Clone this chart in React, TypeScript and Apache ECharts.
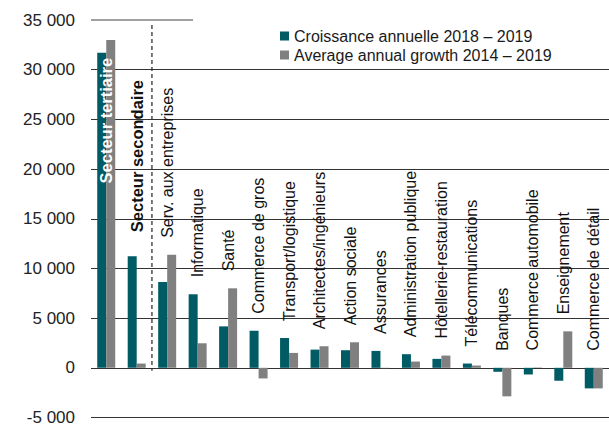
import React, { useEffect, useRef } from "react";
import * as echarts from "echarts";

const categories = [
  "Secteur tertiaire",
  "Secteur secondaire",
  "Serv. aux entreprises",
  "Informatique",
  "Santé",
  "Commerce de gros",
  "Transport/logistique",
  "Architectes/ingénieurs",
  "Action sociale",
  "Assurances",
  "Administration publique",
  "Hôtellerie-restauration",
  "Télécommunications",
  "Banques",
  "Commerce automobile",
  "Enseignement",
  "Commerce de détail",
];
const growth2018 = [31700, 11230, 8630, 7400, 4170, 3730, 3000, 1830, 1770, 1700, 1370, 900, 430, -400, -670, -1300, -2070];
const growthAvg = [33000, 430, 11370, 2470, 8000, -1070, 1500, 2170, 2570, -40, 630, 1230, 230, -2870, 40, 3670, -2070];
const seriesNames = ["Croissance annuelle 2018 – 2019", "Average annual growth 2014 – 2019"];
const yMin = -5000;
const yMax = 35000;
const yStep = 5000;

const FONT = '"Liberation Sans", Arial, Helvetica, sans-serif';

function fmt(v: number): string {
  const s = Math.abs(v).toString().replace(/\B(?=(\d{3})+(?!\d))/g, " ");
  return v < 0 ? "-" + s : s;
}

export default function App() {
  const ref = useRef<HTMLDivElement>(null);
  useEffect(() => {
    if (!ref.current) return;
    const chart = echarts.init(ref.current, undefined, { renderer: "svg" });
    const labelData = categories.map((_, i) => [i, growth2018[i], growthAvg[i]]);
    chart.setOption({
      animation: false,
      textStyle: { fontFamily: FONT },
      grid: { left: 91, right: -3, top: 20, bottom: 6, containLabel: false },
      legend: {
        orient: "vertical",
        left: 275,
        top: 23,
        itemWidth: 9,
        itemHeight: 9,
        itemGap: 3,
        icon: "rect",
        data: seriesNames,
        textStyle: { fontSize: 16, color: "#1a1a1a", fontFamily: FONT },
      },
      xAxis: {
        type: "category",
        data: categories,
        axisLine: { show: false },
        axisTick: { show: false },
        axisLabel: { show: false },
        splitLine: { show: false },
      },
      yAxis: {
        type: "value",
        min: yMin,
        max: yMax,
        interval: yStep,
        axisLine: { show: false },
        axisTick: { show: false },
        axisLabel: {
          fontSize: 17,
          color: "#222",
          margin: 16,
          fontFamily: FONT,
          formatter: (v: number) => fmt(v),
        },
        splitLine: {
          show: true,
          showMaxLine: false,
          lineStyle: { color: "#333", width: 1 },
        },
      },
      series: [
        {
          name: seriesNames[0],
          type: "bar",
          data: growth2018,
          barWidth: 9,
          barGap: "0%",
          itemStyle: { color: "#005B64" },
        },
        {
          name: seriesNames[1],
          type: "bar",
          data: growthAvg,
          barWidth: 9,
          barGap: "0%",
          itemStyle: { color: "#808080" },
        },
        {
          type: "custom",
          data: labelData,
          z: 10,
          silent: true,
          encode: { x: 0, y: [1, 2] },
          renderItem: (params: any, api: any) => {
            const i = api.value(0);
            const a = api.value(1);
            const b = api.value(2);
            const band = api.size([1, 0])[0];
            const cx = api.coord([i, 0])[0];
            const children: any[] = [];
            const top = Math.max(a, b, 0);
            if (i === 0) {
              const y = api.coord([i, a])[1] + 5;
              children.push({
                type: "text",
                x: cx,
                y,
                rotation: Math.PI / 2,
                style: {
                  text: categories[i],
                  fill: "#fff",
                  fontSize: 16.5,
                  fontWeight: "bold",
                  fontFamily: FONT,
                  align: "right",
                  verticalAlign: "middle",
                },
              });
              const yTop = api.coord([i, yMax])[1];
              const x0 = cx - band / 2;
              children.push({
                type: "line",
                shape: { x1: x0, y1: yTop, x2: x0 + 102, y2: yTop },
                style: { stroke: "#808080", lineWidth: 1.5 },
              });
            } else {
              const gap = i === 1 ? 24 : 17;
              const y = api.coord([i, top])[1] - gap;
              children.push({
                type: "text",
                x: cx,
                y,
                rotation: Math.PI / 2,
                style: {
                  text: categories[i],
                  fill: "#111",
                  fontSize: i === 1 ? 16.5 : 16,
                  fontWeight: i === 1 ? "bold" : "normal",
                  fontFamily: FONT,
                  align: "left",
                  verticalAlign: "middle",
                },
              });
            }
            if (i === 1) {
              const xl = cx + band / 2;
              children.push({
                type: "line",
                shape: {
                  x1: xl,
                  y1: api.coord([i, yMax])[1] + 5,
                  x2: xl,
                  y2: api.coord([i, 0])[1] + 3,
                },
                style: { stroke: "#333", lineWidth: 1.3, lineDash: [4, 3] },
              });
            }
            return { type: "group", children };
          },
        },
      ],
    });
    return () => chart.dispose();
  }, []);
  return (
    <div
      ref={ref}
      style={{ position: "absolute", left: 0, top: 0, width: 609, height: 426, background: "#fff" }}
    />
  );
}
